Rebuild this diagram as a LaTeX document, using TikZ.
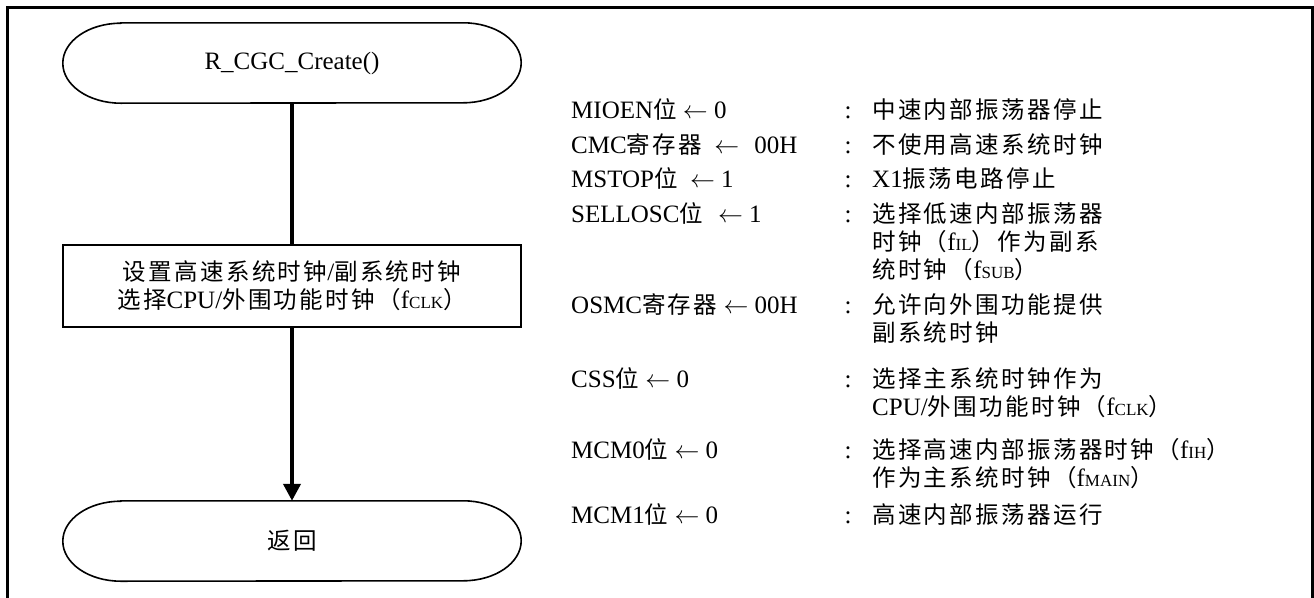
\documentclass[tikz,border=0pt]{standalone}
\usepackage{fontspec}
\setmainfont{Liberation Serif}
\newfontfamily\zhfont{Noto Sans CJK SC}[Scale=0.94,LetterSpace=10]
\usetikzlibrary{arrows.meta}
\newcommand\zh[1]{{\zhfont #1}}
\newcommand\fq[1]{f{\fontsize{17}{17}\selectfont #1}}
\newcommand\termline[1]{%
  \draw[line width=1.6] ([xshift=58pt]#1.north west) -- ([xshift=-58pt]#1.north east)
    arc[start angle=90,end angle=-90,x radius=58pt,y radius=40pt]
    -- ([xshift=58pt]#1.south west)
    arc[start angle=270,end angle=90,x radius=58pt,y radius=40pt] -- cycle;}
\begin{document}
\begin{tikzpicture}[x=1pt,y=1pt,
    every node/.style={inner sep=0pt,font=\fontsize{25}{28}\selectfont},
    term/.style={minimum width=458,minimum height=80},
    proc/.style={draw,line width=1.6,minimum width=458,minimum height=82,align=center},
    reg/.style={anchor=base west},
    note/.style={anchor=base west,align=left},
    flow/.style={line width=4}]
  \useasboundingbox (0,0) rectangle (1314,-597);
  \draw[line width=2.5] (7.5,-610) |- (1312.5,-7.5) -- (1312.5,-610);
  % flowchart
  \node[term] (start) at (292,-63) {R\_CGC\_Create()};
  \node[proc] (init) at (292,-286) {\zh{设置高速系统时钟}/\zh{副系统时钟}\\
    \zh{选择}CPU/\zh{外围功能时钟（}\fq{CLK}\zh{）}};
  \node[term] (ret) at (292,-541) {\zh{返回}};
  \termline{start}
  \termline{ret}
  \draw[flow] (start) -- (init);
  \draw[flow,-{Triangle[length=17pt,width=17pt]}] (init) -- (ret);
  % register settings (multi-line notes sit on their last line)
  \node[reg] (mioen) at (571,-118) {MIOEN\zh{位} $\leftarrow$ 0};
  \node[reg] (cmc) at (571,-153) {CMC\zh{寄存器}\hspace{0.5em}$\leftarrow$\hspace{0.6em}00H};
  \node[reg] (mstop) at (571,-187) {MSTOP\zh{位}\hspace{0.5em}$\leftarrow$ 1};
  \node[reg] (sellosc) at (571,-222) {SELLOSC\zh{位}\hspace{0.6em}$\leftarrow$ 1};
  \node[reg] (osmc) at (571,-313) {OSMC\zh{寄存器} $\leftarrow$ 00H};
  \node[reg] (css) at (571,-387) {CSS\zh{位} $\leftarrow$ 0};
  \node[reg] (mcm0) at (571,-458) {MCM0\zh{位} $\leftarrow$ 0};
  \node[reg] (mcm1) at (571,-523) {MCM1\zh{位} $\leftarrow$ 0};
  \foreach \y [count=\i] in {118,153,187,222,313,387,458,523}
    \node[anchor=base] (colon\i) at (848,-\y) {:};
  \node[note] (mioen_d) at (872,-118) {\zh{中速内部振荡器停止}};
  \node[note] (cmc_d) at (872,-153) {\zh{不使用高速系统时钟}};
  \node[note] (mstop_d) at (872,-187) {X1\zh{振荡电路停止}};
  \node[note] (sellosc_d) at (872,-278) {\zh{选择低速内部振荡器}\\
    \zh{时钟（}\fq{IL}\zh{）作为副系}\\\zh{统时钟（}\fq{SUB}\zh{）}};
  \node[note] (osmc_d) at (872,-341) {\zh{允许向外围功能提供}\\\zh{副系统时钟}};
  \node[note] (css_d) at (872,-415) {\zh{选择主系统时钟作为}\\
    CPU/\zh{外围功能时钟（}\fq{CLK}\zh{）}};
  \node[note] (mcm0_d) at (872,-486) {\zh{选择高速内部振荡器时钟（}\fq{IH}\zh{）}\\
    \zh{作为主系统时钟（}\fq{MAIN}\zh{）}};
  \node[note] (mcm1_d) at (872,-523) {\zh{高速内部振荡器运行}};
\end{tikzpicture}
\end{document}
